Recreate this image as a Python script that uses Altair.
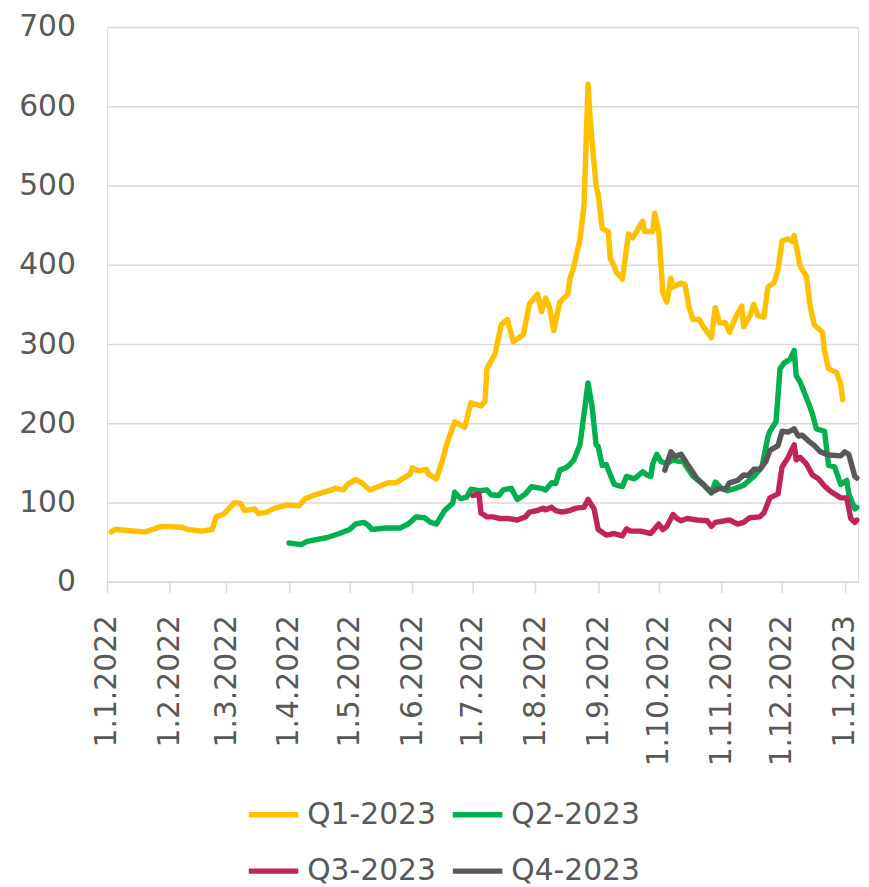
import altair as alt
import pandas as pd

series_names = ["Q1-2023", "Q2-2023", "Q3-2023", "Q4-2023"]
series_colors = ["#FFC000", "#00B050", "#C0245A", "#595959"]
legend_order = ["Q1-2023", "Q3-2023", "Q2-2023", "Q4-2023"]

q1_dates = ["2022-01-03", "2022-01-05", "2022-01-20", "2022-01-28", "2022-02-07", "2022-02-10",
            "2022-02-17", "2022-02-22", "2022-02-24", "2022-02-28", "2022-03-05", "2022-03-08",
            "2022-03-10", "2022-03-15", "2022-03-17", "2022-03-21", "2022-03-25", "2022-03-31",
            "2022-04-06", "2022-04-09", "2022-04-13", "2022-04-21", "2022-04-24", "2022-04-28",
            "2022-04-30", "2022-05-04", "2022-05-07", "2022-05-11", "2022-05-16", "2022-05-20",
            "2022-05-24", "2022-05-27", "2022-05-31", "2022-06-01", "2022-06-04", "2022-06-08",
            "2022-06-09", "2022-06-13", "2022-06-16", "2022-06-18", "2022-06-22", "2022-06-27",
            "2022-06-30", "2022-07-05", "2022-07-07", "2022-07-08", "2022-07-12", "2022-07-15",
            "2022-07-18", "2022-07-21", "2022-07-26", "2022-07-29", "2022-08-02", "2022-08-04",
            "2022-08-06", "2022-08-08", "2022-08-10", "2022-08-13", "2022-08-17", "2022-08-18",
            "2022-08-20", "2022-08-23", "2022-08-25", "2022-08-27", "2022-08-28", "2022-08-31",
            "2022-09-01", "2022-09-03", "2022-09-06", "2022-09-07", "2022-09-09", "2022-09-10",
            "2022-09-13", "2022-09-16", "2022-09-18", "2022-09-20", "2022-09-23", "2022-09-24",
            "2022-09-28", "2022-09-29", "2022-10-01", "2022-10-03", "2022-10-05", "2022-10-07",
            "2022-10-08", "2022-10-12", "2022-10-14", "2022-10-16", "2022-10-18", "2022-10-21",
            "2022-10-23", "2022-10-27", "2022-10-29", "2022-10-31", "2022-11-03", "2022-11-05",
            "2022-11-08", "2022-11-11", "2022-11-12", "2022-11-15", "2022-11-17", "2022-11-19",
            "2022-11-22", "2022-11-24", "2022-11-27", "2022-11-29", "2022-12-01", "2022-12-04",
            "2022-12-06", "2022-12-07", "2022-12-10", "2022-12-13", "2022-12-15", "2022-12-17",
            "2022-12-21", "2022-12-22", "2022-12-24", "2022-12-28", "2022-12-30", "2022-12-31"]
q1_values = [63, 66, 63, 70, 69, 66,
             64, 66, 82, 86, 100, 99,
             90, 92, 86, 88, 93, 97,
             96, 105, 109, 115, 118, 116,
             123, 129, 125, 116, 121, 125,
             125, 130, 136, 144, 140, 142,
             136, 130, 154, 173, 202, 195,
             226, 222, 228, 269, 288, 324,
             331, 303, 312, 351, 363, 341,
             358, 346, 317, 353, 363, 382,
             398, 432, 475, 628, 585, 499,
             489, 446, 442, 408, 398, 391,
             382, 439, 434, 442, 455, 442,
             442, 465, 442, 365, 353, 383,
             372, 377, 375, 346, 331, 331,
             322, 308, 346, 327, 327, 315,
             334, 348, 322, 335, 350, 336,
             334, 372, 377, 394, 430, 433,
             430, 437, 398, 386, 346, 324,
             315, 291, 269, 264, 250, 230]

q2_dates = ["2022-04-01", "2022-04-07", "2022-04-10", "2022-04-20", "2022-04-26", "2022-05-01",
            "2022-05-04", "2022-05-08", "2022-05-10", "2022-05-12", "2022-05-19", "2022-05-26",
            "2022-05-30", "2022-06-03", "2022-06-07", "2022-06-10", "2022-06-13", "2022-06-17",
            "2022-06-21", "2022-06-22", "2022-06-25", "2022-06-28", "2022-06-30", "2022-07-04",
            "2022-07-08", "2022-07-10", "2022-07-14", "2022-07-16", "2022-07-20", "2022-07-23",
            "2022-07-27", "2022-07-30", "2022-08-04", "2022-08-06", "2022-08-09", "2022-08-11",
            "2022-08-13", "2022-08-16", "2022-08-18", "2022-08-20", "2022-08-23", "2022-08-25",
            "2022-08-27", "2022-08-29", "2022-08-31", "2022-09-01", "2022-09-03", "2022-09-05",
            "2022-09-07", "2022-09-09", "2022-09-13", "2022-09-15", "2022-09-19", "2022-09-23",
            "2022-09-25", "2022-09-27", "2022-09-28", "2022-09-30", "2022-10-02", "2022-10-05",
            "2022-10-08", "2022-10-11", "2022-10-13", "2022-10-18", "2022-10-23", "2022-10-27",
            "2022-10-29", "2022-11-01", "2022-11-04", "2022-11-08", "2022-11-12", "2022-11-17",
            "2022-11-21", "2022-11-24", "2022-11-25", "2022-11-28", "2022-11-30", "2022-12-02",
            "2022-12-05", "2022-12-07", "2022-12-08", "2022-12-10", "2022-12-14", "2022-12-16",
            "2022-12-18", "2022-12-22", "2022-12-24", "2022-12-27", "2022-12-30", "2023-01-02",
            "2023-01-03", "2023-01-06", "2023-01-07"]
q2_values = [49, 47, 51, 56, 61, 66,
             73, 75, 72, 66, 68, 68,
             73, 82, 81, 75, 73, 90,
             99, 113, 105, 107, 117, 115,
             116, 110, 109, 116, 118, 104,
             111, 120, 118, 116, 125, 124,
             141, 144, 148, 154, 173, 212,
             251, 221, 173, 171, 147, 148,
             135, 123, 120, 133, 130, 139,
             135, 133, 149, 161, 152, 149,
             154, 152, 152, 133, 123, 112,
             126, 118, 115, 118, 122, 133,
             145, 183, 190, 202, 269, 276,
             281, 292, 260, 252, 226, 212,
             193, 190, 147, 145, 123, 128,
             111, 92, 94]

q3_dates = ["2022-07-01", "2022-07-04", "2022-07-05", "2022-07-08", "2022-07-11", "2022-07-14",
            "2022-07-18", "2022-07-23", "2022-07-27", "2022-07-29", "2022-08-02", "2022-08-05",
            "2022-08-06", "2022-08-09", "2022-08-11", "2022-08-14", "2022-08-18", "2022-08-21",
            "2022-08-25", "2022-08-27", "2022-08-30", "2022-09-01", "2022-09-05", "2022-09-09",
            "2022-09-13", "2022-09-15", "2022-09-17", "2022-09-22", "2022-09-27", "2022-10-01",
            "2022-10-03", "2022-10-05", "2022-10-08", "2022-10-10", "2022-10-12", "2022-10-15",
            "2022-10-20", "2022-10-25", "2022-10-27", "2022-10-29", "2022-11-05", "2022-11-09",
            "2022-11-12", "2022-11-15", "2022-11-20", "2022-11-22", "2022-11-25", "2022-11-29",
            "2022-12-01", "2022-12-04", "2022-12-07", "2022-12-08", "2022-12-10", "2022-12-13",
            "2022-12-16", "2022-12-19", "2022-12-22", "2022-12-25", "2022-12-30", "2023-01-02",
            "2023-01-04", "2023-01-06", "2023-01-07"]
q3_values = [109, 111, 87, 82, 82, 80,
             80, 78, 82, 88, 90, 93,
             91, 94, 90, 88, 90, 93,
             94, 104, 92, 66, 59, 61,
             58, 67, 64, 64, 61, 73,
             66, 70, 85, 80, 77, 80,
             78, 77, 70, 75, 78, 73,
             75, 81, 82, 87, 106, 111,
             145, 157, 173, 154, 157, 149,
             135, 130, 121, 114, 106, 106,
             80, 75, 78]

q4_dates = ["2022-10-04", "2022-10-07", "2022-10-09", "2022-10-12", "2022-10-15", "2022-10-20",
            "2022-10-23", "2022-10-27", "2022-10-31", "2022-11-03", "2022-11-05", "2022-11-09",
            "2022-11-12", "2022-11-14", "2022-11-17", "2022-11-20", "2022-11-23", "2022-11-25",
            "2022-11-29", "2022-12-01", "2022-12-04", "2022-12-07", "2022-12-09", "2022-12-11",
            "2022-12-14", "2022-12-17", "2022-12-20", "2022-12-24", "2022-12-30", "2023-01-01",
            "2023-01-03", "2023-01-06", "2023-01-07"]
q4_values = [141, 164, 158, 161, 149, 130,
             123, 113, 118, 117, 125, 128,
             135, 134, 142, 142, 152, 166,
             172, 190, 189, 193, 184, 185,
             178, 172, 164, 160, 159, 164,
             161, 133, 131]

y_ticks = [0, 100, 200, 300, 400, 500, 600, 700]

frames = []
for name, d, v in zip(series_names, [q1_dates, q2_dates, q3_dates, q4_dates],
                      [q1_values, q2_values, q3_values, q4_values]):
    frames.append(pd.DataFrame({"date": d, "value": v, "series": name}))
df = pd.concat(frames, ignore_index=True)

month_ticks = [alt.DateTime(year=2022, month=m, date=1, utc=True) for m in range(1, 13)]
month_ticks.append(alt.DateTime(year=2023, month=1, date=1, utc=True))

FONT = "DejaVu Sans"
GREY = "#595959"
GRID = "#D9D9D9"

chart = alt.Chart(df).mark_line(strokeWidth=5.5, strokeJoin="round", strokeCap="round").encode(
    x=alt.X("date:T",
            scale=alt.Scale(type="utc", domain=[
                alt.DateTime(year=2022, month=1, date=1, utc=True),
                alt.DateTime(year=2023, month=1, date=7, hours=14, utc=True)]),
            axis=alt.Axis(values=month_ticks, format="%-d.%-m.%Y", labelAngle=-90,
                          labelAlign="right", labelBaseline="middle",
                          labelFont=FONT, labelFontSize=30, labelColor=GREY,
                          tickSize=11, tickColor=GRID, tickWidth=1.5,
                          domainColor=GRID, domainWidth=1.5, grid=False,
                          labelPadding=22, labelOverlap=False, title=None)),
    y=alt.Y("value:Q",
            scale=alt.Scale(domain=[0, 700], nice=False),
            axis=alt.Axis(values=y_ticks, labelFont=FONT, labelFontSize=30, labelColor=GREY,
                          ticks=False, domain=False, gridColor=GRID, gridWidth=1.5,
                          labelPadding=32, title=None)),
    color=alt.Color("series:N",
                    scale=alt.Scale(domain=series_names, range=series_colors),
                    legend=alt.Legend(orient="none", legendX=140, legendY=767, columns=2,
                                      values=legend_order,
                                      symbolType="stroke", symbolSize=2500, symbolStrokeWidth=5.5,
                                      labelFont=FONT, labelFontSize=30, labelColor=GREY,
                                      labelOffset=6, columnPadding=6, rowPadding=14,
                                      labelLimit=300, padding=0, title=None)),
    order=alt.Order("date:T"),
).properties(
    width=758, height=560,
    autosize=alt.AutoSizeParams(type="none"),
    padding={"left": 100, "top": 15, "right": 3, "bottom": 330},
).configure_view(stroke=None).configure(background="white")

chart.save("out.html", embed_options={"renderer": "svg", "actions": False})
